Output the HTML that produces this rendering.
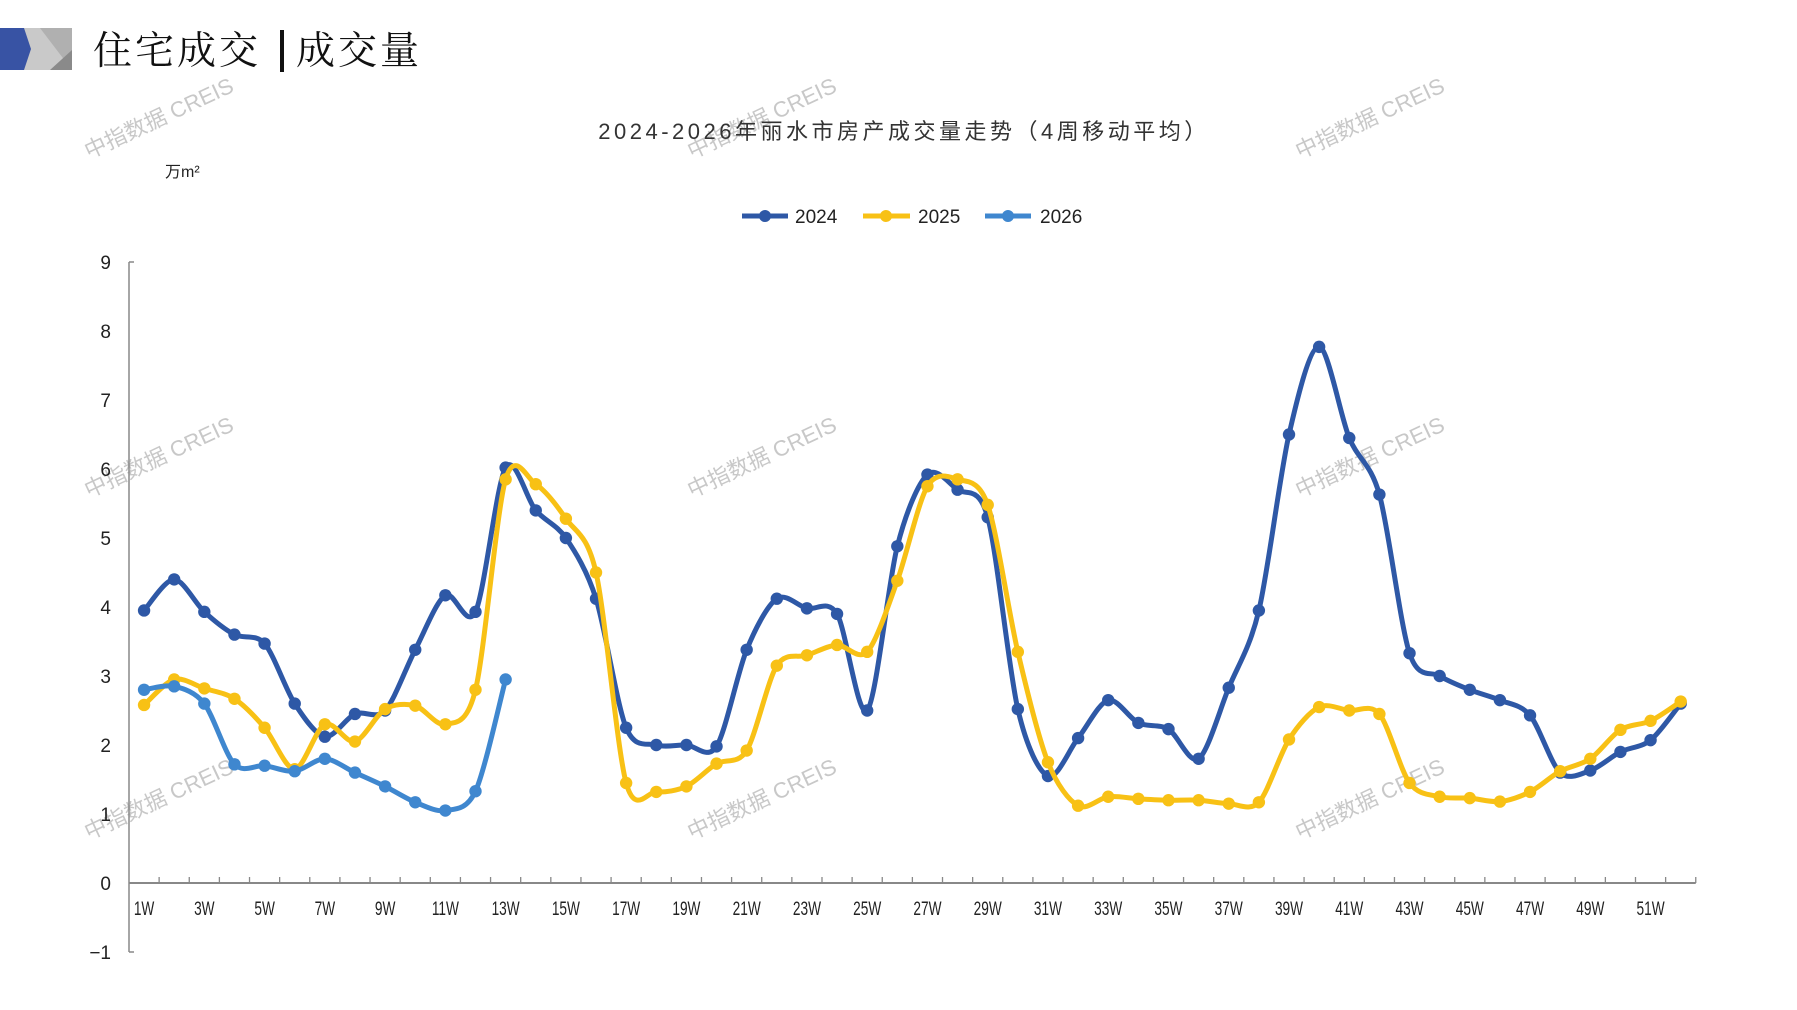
<!DOCTYPE html>
<html><head><meta charset="utf-8">
<style>
body{margin:0;background:#fff;}
svg{display:block;}
</style></head>
<body>
<svg id="c" width="1797" height="1010" xmlns="http://www.w3.org/2000/svg" font-family="Liberation Sans, Noto Sans CJK SC, sans-serif">
<rect width="1797" height="1010" fill="#fff"/>
<polygon points="19,28 72,28 72,70 19,70" fill="#c9c9c9"/>
<polygon points="40,28 72,28 72,70" fill="#b0b0b0"/>
<polygon points="50,70 72,50 72,70" fill="#8a8a8a"/>
<polygon points="0,28 24,28 31,49 24,70 0,70" fill="#3853a4"/>
<text x="93" y="64" font-family="Noto Serif CJK SC, serif" font-size="39" letter-spacing="3" fill="#111">住宅成交</text>
<rect x="280" y="30" width="4" height="42" fill="#111"/>
<text x="296" y="64" font-family="Noto Serif CJK SC, serif" font-size="39" letter-spacing="3" fill="#111">成交量</text>
<g id="wm" fill="#c8c8c8" font-size="22" font-family="Liberation Sans, Noto Sans CJK SC, sans-serif"></g>
<text x="904" y="139" text-anchor="middle" font-size="22" letter-spacing="3.5" fill="#333" font-family="Liberation Sans, Noto Sans CJK SC, sans-serif">2024-2026年丽水市房产成交量走势（4周移动平均）</text>
<text x="165" y="177" font-size="16" fill="#222" font-family="Liberation Sans, Noto Sans CJK SC, sans-serif">万m²</text>
<g font-size="19" fill="#222">
<line x1="742" y1="216" x2="788" y2="216" stroke="#2e58a6" stroke-width="5"/><circle cx="765" cy="216" r="6" fill="#2e58a6"/><text x="795" y="223">2024</text>
<line x1="863" y1="216" x2="910" y2="216" stroke="#f8c115" stroke-width="5"/><circle cx="886" cy="216" r="6" fill="#f8c115"/><text x="918" y="223">2025</text>
<line x1="985" y1="216" x2="1031" y2="216" stroke="#3f87cf" stroke-width="5"/><circle cx="1008" cy="216" r="6" fill="#3f87cf"/><text x="1040" y="223">2026</text>
</g>
<g id="axes"></g>
<g id="series"></g>
</svg>
<script>
var NS="http://www.w3.org/2000/svg";
function el(t,a,p,txt){var e=document.createElementNS(NS,t);for(var k in a)e.setAttribute(k,a[k]);if(txt!=null)e.textContent=txt;p.appendChild(e);return e;}
var X0=129,DX=30.13,Y0=883,U=69;
function xp(i){return X0+DX*(i+0.5);}
function yp(v){return Y0-U*v;}
var ax=document.getElementById('axes');
el('line',{x1:X0,y1:262,x2:X0,y2:952,stroke:'#888','stroke-width':1.5},ax);
el('line',{x1:X0,y1:262,x2:X0+5,y2:262,stroke:'#888','stroke-width':1.5},ax);
el('line',{x1:X0,y1:952,x2:X0+5,y2:952,stroke:'#888','stroke-width':1.5},ax);
el('line',{x1:X0,y1:Y0,x2:X0+DX*52,y2:Y0,stroke:'#888','stroke-width':2},ax);
for(var i=1;i<=52;i++){var x=X0+DX*i;el('line',{x1:x,y1:Y0,x2:x,y2:Y0-6,stroke:'#888','stroke-width':1.3},ax);}
for(var v=-1;v<=9;v++){el('text',{x:111,y:yp(v)+7,'text-anchor':'end','font-size':19,fill:'#222'},ax,v<0?'−1':String(v));}
for(var i=0;i<52;i+=2){el('text',{x:0,y:0,'text-anchor':'middle','font-size':19,fill:'#222',transform:'translate('+xp(i)+',915) scale(0.72,1)'},ax,(i+1)+'W');}
var wm=document.getElementById('wm');
[162,765,1373].forEach(function(x){[125,464,806].forEach(function(y){el('text',{x:0,y:0,'text-anchor':'middle',transform:'translate('+x+','+y+') rotate(-25)'},wm,'中指数据 CREIS');});});
var d24=[3.95,4.4,3.93,3.6,3.47,2.6,2.12,2.45,2.5,3.38,4.17,3.93,6.02,5.4,5.0,4.12,2.25,2.0,2.0,1.98,3.38,4.12,3.98,3.9,2.5,4.88,5.92,5.7,5.3,2.52,1.55,2.1,2.65,2.32,2.23,1.8,2.83,3.95,6.5,7.77,6.45,5.63,3.33,3.0,2.8,2.65,2.43,1.6,1.63,1.9,2.07,2.6];
var d25=[2.58,2.95,2.82,2.67,2.25,1.65,2.3,2.05,2.52,2.57,2.3,2.8,5.85,5.78,5.28,4.5,1.45,1.32,1.4,1.73,1.92,3.15,3.3,3.45,3.35,4.38,5.75,5.85,5.48,3.35,1.75,1.12,1.25,1.22,1.2,1.2,1.15,1.17,2.08,2.55,2.5,2.45,1.45,1.25,1.23,1.18,1.32,1.62,1.8,2.22,2.35,2.63];
var d26=[2.8,2.85,2.6,1.72,1.7,1.62,1.8,1.6,1.4,1.17,1.05,1.33,2.95];
var sg=document.getElementById('series');
function draw(d,c){
 var p=d.map(function(v,i){return [xp(i),yp(v)];});
 var s='M'+p[0][0]+','+p[0][1];
 var t=0.15;
 for(var i=0;i<p.length-1;i++){
  var p0=p[i-1]||p[i],p1=p[i],p2=p[i+1],p3=p[i+2]||p2;
  var c1=[p1[0]+(p2[0]-p0[0])*t,p1[1]+(p2[1]-p0[1])*t];
  var c2=[p2[0]-(p3[0]-p1[0])*t,p2[1]-(p3[1]-p1[1])*t];
  s+=' C'+c1[0]+','+c1[1]+' '+c2[0]+','+c2[1]+' '+p2[0]+','+p2[1];
 }
 el('path',{d:s,fill:'none',stroke:c,'stroke-width':5,'stroke-linejoin':'round','stroke-linecap':'round'},sg);
 p.forEach(function(q){el('circle',{cx:q[0],cy:q[1],r:6.2,fill:c},sg);});
}
draw(d24,'#2e58a6');draw(d25,'#f8c115');draw(d26,'#3f87cf');
</script>
</body></html>
